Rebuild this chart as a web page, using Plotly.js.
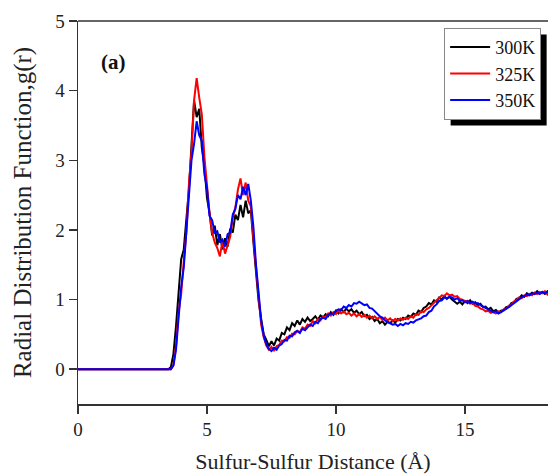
<!DOCTYPE html>
<html>
<head>
<meta charset="utf-8">
<script src="https://cdn.plot.ly/plotly-3.0.1.min.js"></script>
<style>html,body{margin:0;padding:0;background:#fff;}#chart{width:548px;height:474px;}</style>
</head>
<body>
<div id="chart"></div>
<script>
// Sulfur-sulfur distance grid (Å)
const r = [0,
 3.5,3.6,3.7,3.8,3.9,4.0,4.1,4.2,4.3,4.4,
 4.5,4.6,4.7,4.8,4.9,5.0,5.1,5.2,5.3,5.4,
 5.5,5.6,5.7,5.8,5.9,6.0,6.1,6.2,6.3,6.4,
 6.5,6.6,6.7,6.8,6.9,7.0,7.1,7.2,7.3,7.4,
 7.5,7.6,7.7,7.8,7.9,8.0,8.1,8.2,8.3,8.4,
 8.5,8.6,8.7,8.8,8.9,9.0,9.1,9.2,9.3,9.4,
 9.5,9.6,9.7,9.8,9.9,10.0,10.1,10.2,10.3,10.4,
 10.5,10.6,10.7,10.8,10.9,11.0,11.1,11.2,11.3,11.4,
 11.5,11.6,11.7,11.8,11.9,12.0,12.1,12.2,12.3,12.4,
 12.5,12.6,12.7,12.8,12.9,13.0,13.1,13.2,13.3,13.4,
 13.5,13.6,13.7,13.8,13.9,14.0,14.1,14.2,14.3,14.4,
 14.5,14.6,14.7,14.8,14.9,15.0,15.1,15.2,15.3,15.4,
 15.5,15.6,15.7,15.8,15.9,16.0,16.1,16.2,16.3,16.4,
 16.5,16.6,16.7,16.8,16.9,17.0,17.1,17.2,17.3,17.4,
 17.5,17.6,17.7,17.8,17.9,18.0,18.1,18.2,18.3];

const g300 = [0,
 0,0.03,0.22,0.62,1.12,1.58,1.72,2.12,2.58,3.22,
 3.86,3.62,3.74,3.18,2.92,2.46,2.24,1.92,2.06,1.78,
 1.94,1.72,1.88,1.76,2.02,1.96,2.22,2.14,2.36,2.18,
 2.42,2.24,2.28,1.82,1.44,0.98,0.72,0.50,0.42,0.33,
 0.40,0.34,0.44,0.41,0.52,0.50,0.60,0.56,0.66,0.62,
 0.70,0.64,0.72,0.68,0.74,0.69,0.72,0.76,0.71,0.77,
 0.74,0.79,0.76,0.82,0.78,0.84,0.80,0.86,0.82,0.87,
 0.83,0.86,0.81,0.84,0.79,0.82,0.76,0.78,0.72,0.75,
 0.69,0.72,0.66,0.69,0.64,0.68,0.66,0.70,0.67,0.72,
 0.70,0.74,0.72,0.77,0.75,0.80,0.78,0.84,0.82,0.88,
 0.90,0.95,0.93,0.99,0.97,1.03,1.00,1.05,1.01,1.04,
 1.00,0.97,0.94,0.97,0.93,0.98,0.95,0.99,0.94,0.96,
 0.92,0.94,0.89,0.90,0.86,0.88,0.83,0.85,0.81,0.84,
 0.85,0.89,0.90,0.95,0.96,1.01,1.02,1.06,1.04,1.09,
 1.07,1.10,1.08,1.12,1.09,1.11,1.08,1.12,1.10];

const g325 = [0,
 0,0.00,0.06,0.33,0.82,1.08,1.55,1.96,2.66,3.12,
 3.86,4.18,3.90,3.66,3.05,2.62,2.24,1.96,1.82,1.74,
 1.62,1.84,1.66,1.78,1.90,2.18,2.32,2.58,2.74,2.50,
 2.68,2.42,2.34,1.88,1.46,1.00,0.64,0.46,0.34,0.28,
 0.32,0.26,0.33,0.35,0.41,0.40,0.46,0.45,0.51,0.50,
 0.55,0.53,0.60,0.58,0.64,0.62,0.69,0.66,0.72,0.70,
 0.76,0.74,0.80,0.77,0.82,0.79,0.84,0.80,0.83,0.79,
 0.81,0.77,0.80,0.76,0.79,0.75,0.78,0.74,0.77,0.73,
 0.76,0.72,0.75,0.71,0.74,0.70,0.73,0.69,0.72,0.70,
 0.73,0.71,0.74,0.72,0.76,0.74,0.79,0.78,0.83,0.82,
 0.86,0.88,0.92,0.95,0.99,1.02,1.06,1.05,1.09,1.06,
 1.07,1.04,1.05,1.01,1.00,0.97,0.98,0.94,0.95,0.91,
 0.90,0.87,0.86,0.83,0.84,0.81,0.82,0.80,0.83,0.82,
 0.86,0.87,0.91,0.93,0.97,0.99,1.03,1.02,1.06,1.05,
 1.08,1.06,1.10,1.08,1.11,1.09,1.12,1.07,1.10];

const g350 = [0,
 0,0.00,0.05,0.28,0.74,1.18,1.46,1.98,2.40,3.00,
 3.24,3.56,3.36,3.28,2.80,2.60,2.20,2.14,1.96,1.98,
 1.82,1.86,1.76,1.94,1.96,2.22,2.30,2.50,2.44,2.62,
 2.50,2.66,2.42,2.04,1.50,1.06,0.70,0.48,0.36,0.29,
 0.26,0.31,0.28,0.34,0.36,0.42,0.41,0.48,0.47,0.53,
 0.55,0.52,0.58,0.56,0.60,0.64,0.62,0.68,0.66,0.72,
 0.74,0.72,0.78,0.80,0.79,0.84,0.86,0.85,0.90,0.88,
 0.92,0.90,0.95,0.94,0.97,0.95,0.92,0.93,0.88,0.87,
 0.83,0.80,0.76,0.74,0.70,0.68,0.66,0.64,0.65,0.62,
 0.65,0.63,0.66,0.65,0.68,0.67,0.70,0.71,0.73,0.76,
 0.77,0.82,0.84,0.90,0.93,0.98,0.99,1.03,1.02,1.04,
 1.03,1.00,1.02,0.98,0.99,0.96,0.98,0.95,0.97,0.94,
 0.95,0.92,0.90,0.88,0.86,0.84,0.82,0.83,0.80,0.82,
 0.84,0.86,0.89,0.92,0.95,0.98,1.00,1.03,1.05,1.07,
 1.06,1.09,1.08,1.10,1.08,1.11,1.09,1.10,1.12];

const seriesNames = ['300K', '325K', '350K'];
const seriesData = [g300, g325, g350];
const seriesColors = ['#000000', '#ff0000', '#0000ff'];
const xTicks = [0, 5, 10, 15];
const yTicks = [0, 1, 2, 3, 4, 5];

const FONT = '"Liberation Serif", "Times New Roman", serif';
const ML = 78, MT = 21, PW = 470, PH = 383;

const traces = seriesNames.map((n, i) => ({
  x: r, y: seriesData[i], type: 'scatter', mode: 'lines', name: n,
  line: {color: seriesColors[i], width: 2}
}));

const layout = {
  width: 548, height: 474,
  margin: {l: ML, r: 0, t: MT, b: 70},
  paper_bgcolor: '#ffffff', plot_bgcolor: '#ffffff',
  font: {family: FONT, color: '#222', size: 19},
  showlegend: true,
  legend: {
    x: 0.779, y: 0.982, xanchor: 'left', yanchor: 'top',
    bgcolor: '#ffffff', bordercolor: '#888', borderwidth: 1,
    font: {family: FONT, size: 18, color: '#111'},
    tracegroupgap: 0, itemwidth: 40
  },
  xaxis: {
    range: [0, 18.22], tickvals: xTicks, ticktext: xTicks.map(String),
    ticks: 'outside', ticklen: 8, tickwidth: 1.5, tickcolor: '#333',
    showline: true, linecolor: '#333', linewidth: 1.5,
    showgrid: false, zeroline: false,
    tickfont: {family: FONT, size: 19, color: '#222'},
    title: {text: 'Sulfur-Sulfur Distance (Å)', font: {family: FONT, size: 22, color: '#222'}, standoff: 14}
  },
  yaxis: {
    range: [-0.5, 5], tickvals: yTicks, ticktext: yTicks.map(String),
    ticks: 'outside', ticklen: 8, tickwidth: 1.5, tickcolor: '#333',
    showline: true, linecolor: '#333', linewidth: 1.5,
    showgrid: false, zeroline: false,
    tickfont: {family: FONT, size: 19, color: '#222'},
    title: {text: 'Radial Distribution Function,g(r)', font: {family: FONT, size: 25, color: '#222'}, standoff: 16}
  },
  shapes: [
    {type: 'line', xref: 'paper', yref: 'paper', x0: 0, x1: 1, y0: 1, y1: 1,
     line: {color: '#333', width: 1.5}},
    {type: 'rect', xref: 'paper', yref: 'paper', layer: 'above',
     x0: (449 - ML) / PW, x1: (546 - ML) / PW, y0: (MT + PH - 121) / PH, y1: (MT + PH - 33) / PH,
     fillcolor: '#000000', line: {width: 0}}
  ],
  annotations: [
    {text: '<b>(a)</b>', xref: 'paper', yref: 'paper', x: 0.045, y: 0.893,
     xanchor: 'left', yanchor: 'middle', showarrow: false,
     font: {family: FONT, size: 21, color: '#111'}}
  ]
};

const gd = document.getElementById('chart');
Plotly.newPlot(gd, traces, layout, {staticPlot: true, displayModeBar: false}).then(() => {
  // place the drop shadow behind the legend box, offset down-right
  const bg = gd.querySelector('.legend .bg');
  if (!bg) return;
  const b = bg.getBoundingClientRect();
  const c = gd.getBoundingClientRect();
  const left = b.left - c.left, top = b.top - c.top;
  const right = b.right - c.left, bottom = b.bottom - c.top;
  const off = 6;
  return Plotly.relayout(gd, {
    'shapes[1].x0': (left + off - ML) / PW,
    'shapes[1].x1': (Math.min(right + off, 548) - ML) / PW,
    'shapes[1].y0': (MT + PH - (bottom + off)) / PH,
    'shapes[1].y1': (MT + PH - (top + off)) / PH
  });
});
</script>
</body>
</html>
